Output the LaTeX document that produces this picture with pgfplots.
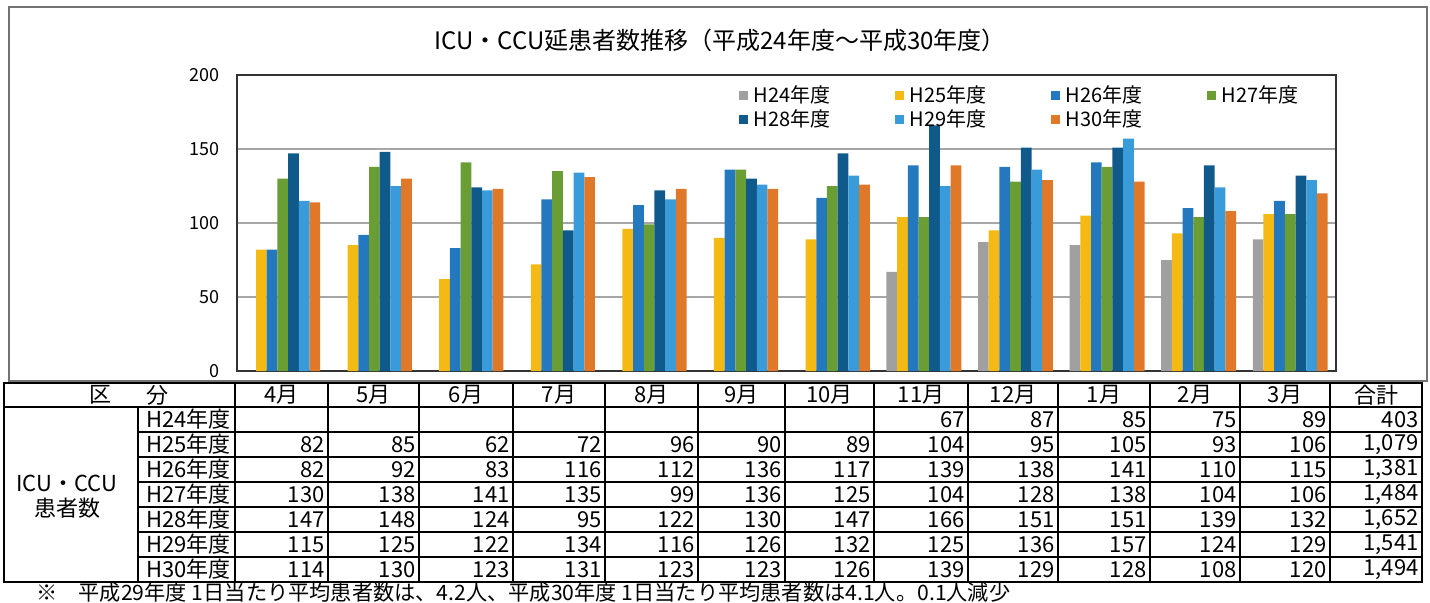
\documentclass[border=0pt]{standalone}
\usepackage{pgfplots}
\pgfplotsset{compat=1.18}
\usepackage{pgfplotstable}
\usepackage{fontspec}
\setmainfont{Noto Sans CJK JP}
\definecolor{c24}{HTML}{A0A0A0}
\definecolor{c25}{HTML}{F5B914}
\definecolor{c26}{HTML}{2378BE}
\definecolor{c27}{HTML}{6A9E35}
\definecolor{c28}{HTML}{0F5A8A}
\definecolor{c29}{HTML}{3A9BDA}
\definecolor{c30}{HTML}{E0782A}
\pgfplotstableread{
m H24 H25 H26 H27 H28 H29 H30
0 nan 82 82 130 147 115 114
1 nan 85 92 138 148 125 130
2 nan 62 83 141 124 122 123
3 nan 72 116 135 95 134 131
4 nan 96 112 99 122 116 123
5 nan 90 136 136 130 126 123
6 nan 89 117 125 147 132 126
7 67 104 139 104 166 125 139
8 87 95 138 128 151 136 129
9 85 105 141 138 151 157 128
10 75 93 110 104 139 124 108
11 89 106 115 106 132 129 120
}\data
\newcommand\tablerow[3]{%
  \node[anchor=west,inner sep=0pt] at (146,#1+12.5) {#2};
  \foreach \v [count=\i from 0] in {#3} {%
    \pgfmathsetmacro\xr{{328,419,513,605,698,785,874,968,1058,1150,1240,1330,1422}[\i]}%
    \node[anchor=east,inner sep=0pt] at ({\xr-3},{#1+12.5}) {\v};
  }%
}
\begin{document}
\begin{tikzpicture}
\begin{scope}[x=0.5pt,y=-0.5pt,shift={(0,301pt)}]
\useasboundingbox (0,0) rectangle (1430,602);
\draw[black!55,line width=0.9pt] (9,7) rectangle (1427,381);
\node[font=\fontsize{12}{14}\selectfont] at (720,40) {ICU・CCU延患者数推移（平成24年度～平成30年度）};
% table grid
\draw[line width=1pt] (4,383) rectangle (1422,582);
\draw[line width=0.8pt] (4,407) -- (1422,407);
\foreach \y in {432,457,...,557} \draw[line width=0.8pt] (138,\y) -- (1422,\y);
\draw[line width=0.8pt] (138,407) -- (138,582);
\foreach \x in {235,328,419,513,605,698,785,874,968,1058,1150,1240,1330}
  \draw[line width=0.8pt] (\x,383) -- (\x,582);
\begin{scope}[font=\fontsize{11}{12}\selectfont]
\node at (100,395) {区};
\node at (157,395) {分};
\foreach \t [count=\i from 0] in {4月,5月,6月,7月,8月,9月,10月,11月,12月,1月,2月,3月,合計} {%
  \pgfmathsetmacro\xa{{235,328,419,513,605,698,785,874,968,1058,1150,1240,1330}[\i]}%
  \pgfmathsetmacro\xb{{328,419,513,605,698,785,874,968,1058,1150,1240,1330,1422}[\i]}%
  \node at ({(\xa+\xb)/2},395) {\t};
}
\node at (67,483) {ICU・CCU};
\node at (67,508) {患者数};
\tablerow{407}{H24年度}{{},{},{},{},{},{},{},67,87,85,75,89,403}
\tablerow{432}{H25年度}{82,85,62,72,96,90,89,104,95,105,93,106,{1,079}}
\tablerow{457}{H26年度}{82,92,83,116,112,136,117,139,138,141,110,115,{1,381}}
\tablerow{482}{H27年度}{130,138,141,135,99,136,125,104,128,138,104,106,{1,484}}
\tablerow{507}{H28年度}{147,148,124,95,122,130,147,166,151,151,139,132,{1,652}}
\tablerow{532}{H29年度}{115,125,122,134,116,126,132,125,136,157,124,129,{1,541}}
\tablerow{557}{H30年度}{114,130,123,131,123,123,126,139,129,128,108,120,{1,494}}
\end{scope}
\node[anchor=west,inner sep=0pt,font=\fontsize{10.6}{12}\selectfont] at (36,592) {※　平成29年度 1日当たり平均患者数は、4.2人、平成30年度 1日当たり平均患者数は4.1人。0.1人減少};
\end{scope}
\begin{axis}[
  at={(118.5pt,115.5pt)}, anchor=south west, scale only axis,
  width=549.5pt, height=148pt,
  xmin=-0.5, xmax=11.5, ymin=0, ymax=200,
  xtick=\empty, ytick={0,50,100,150,200},
  ybar=0pt, bar width=5.35pt,
  ymajorgrids, grid style={black!35, line width=0.6pt},
  axis line style={black!80, line width=0.8pt},
  major tick length=0pt,
  yticklabel style={font=\fontsize{9}{10}\selectfont, xshift=-5pt},
  /pgf/number format/assume math mode=true,
  legend style={at={(0.456,0.975)}, anchor=north west, draw=none, fill=none,
    font=\fontsize{10}{11}\selectfont, inner sep=0pt, nodes={inner sep=1.2pt},
    /tikz/every even column/.append style={column sep=31pt}},
  legend columns=4,
  legend cell align=left,
  legend image code/.code={\fill[#1] (0pt,-2.3pt) rectangle (4.6pt,2.3pt);},
]
\addplot[fill=c24,draw=none] table[x=m,y=H24]{\data};
\addplot[fill=c25,draw=none] table[x=m,y=H25]{\data};
\addplot[fill=c26,draw=none] table[x=m,y=H26]{\data};
\addplot[fill=c27,draw=none] table[x=m,y=H27]{\data};
\addplot[fill=c28,draw=none] table[x=m,y=H28]{\data};
\addplot[fill=c29,draw=none] table[x=m,y=H29]{\data};
\addplot[fill=c30,draw=none] table[x=m,y=H30]{\data};
\legend{\,H24年度,\,H25年度,\,H26年度,\,H27年度,\,H28年度,\,H29年度,\,H30年度}
\end{axis}
\end{tikzpicture}
\end{document}
